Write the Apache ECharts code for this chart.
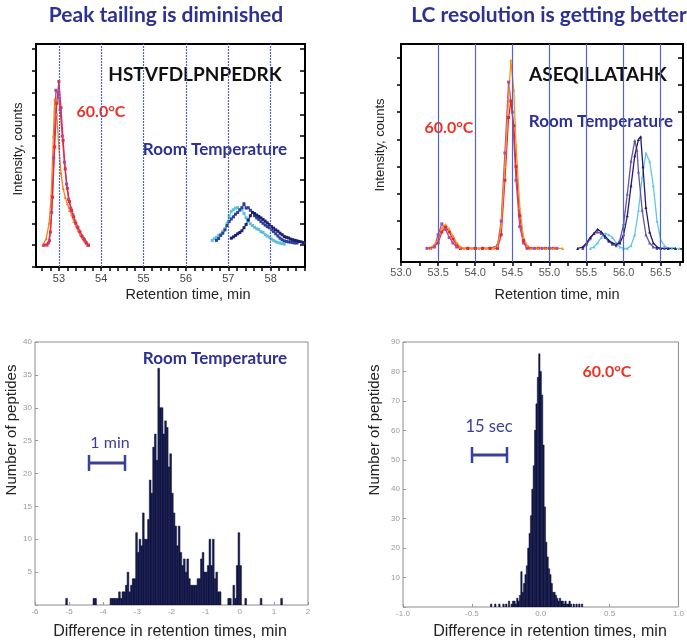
<!DOCTYPE html>
<html><head><meta charset="utf-8">
<script src="https://cdn.jsdelivr.net/npm/echarts@6/dist/echarts.min.js"></script>
<style>html,body{margin:0;padding:0;background:#fff}#c{width:687px;height:642px}</style>
</head><body><div id="c"></div>
<script>
// ---------- Panel 1: HSTVFDLPNPEDRK chromatograms ----------
const p1GridLines = [53, 54, 55, 56, 57, 58];
const p1XTicks = [52.6,52.8,53,53.2,53.4,53.6,53.8,54,54.2,54.4,54.6,54.8,55,55.2,55.4,55.6,55.8,56,56.2,56.4,56.6,56.8,57,57.2,57.4,57.6,57.8,58,58.2,58.4,58.6,58.8];
const p1XLabels = [53, 54, 55, 56, 57, 58];
const p1YTicks = [-1,0,1,2,3,4,5,6,7,8,9];
const p1Red = [[52.65,0],[52.75,0.1],[52.8,0.6],[52.85,2.2],[52.9,4.5],[52.95,6.5],[53.0,7.5],[53.05,6.3],[53.1,4.8],[53.15,3.5],[53.2,2.6],[53.25,2.0],[53.3,1.6],[53.35,1.3],[53.4,1.0],[53.45,0.8],[53.5,0.6],[53.55,0.4],[53.6,0.25],[53.65,0.1],[53.7,0]];
const p1Purple = [[52.72,0],[52.78,0.2],[52.83,1.5],[52.88,4.0],[52.93,7.1],[52.98,7.0],[53.03,6.2],[53.08,5.0],[53.13,3.8],[53.18,2.8],[53.23,2.1],[53.28,1.7],[53.33,1.4],[53.38,1.1],[53.43,0.85],[53.48,0.65],[53.53,0.45],[53.58,0.3],[53.63,0.15],[53.68,0]];
const p1Orange = [[52.62,0],[52.7,0.3],[52.77,1.0],[52.82,2.3],[52.87,5.0],[52.9,6.7],[52.95,6.0],[53.0,4.5],[53.05,3.3],[53.1,2.6],[53.15,2.2],[53.2,1.9],[53.25,1.6],[53.3,1.4],[53.35,1.1],[53.4,0.9],[53.45,0.7],[53.5,0.5],[53.55,0.35],[53.6,0.2],[53.65,0.08],[53.7,0]];
const p1Cyan = [[56.62,0.22],[56.67,0.3],[56.72,0.36],[56.77,0.45],[56.82,0.5],[56.87,0.62],[56.92,0.75],[56.97,1.0],[57.02,1.3],[57.07,1.55],[57.12,1.62],[57.17,1.7],[57.22,1.72],[57.27,1.6],[57.32,1.66],[57.37,1.45],[57.42,1.25],[57.47,1.1],[57.52,0.98],[57.57,0.9],[57.62,0.82],[57.67,0.75],[57.72,0.72],[57.77,0.62],[57.82,0.58],[57.87,0.48],[57.92,0.42],[57.97,0.36],[58.02,0.28],[58.07,0.22],[58.12,0.16],[58.17,0.12],[58.22,0.1],[58.27,0.07],[58.32,0.05]];
const p1Blue = [[56.72,0.22],[56.77,0.3],[56.82,0.45],[56.87,0.55],[56.92,0.7],[56.97,0.9],[57.02,1.08],[57.07,1.2],[57.12,1.3],[57.17,1.42],[57.22,1.5],[57.27,1.62],[57.32,1.72],[57.37,1.9],[57.42,1.7],[57.47,1.72],[57.52,1.6],[57.57,1.5],[57.62,1.35],[57.67,1.25],[57.72,1.18],[57.77,1.08],[57.82,1.0],[57.87,0.92],[57.92,0.85],[57.97,0.8],[58.02,0.7],[58.07,0.62],[58.12,0.52],[58.17,0.42],[58.22,0.32],[58.27,0.25],[58.32,0.2],[58.37,0.17],[58.42,0.15],[58.47,0.14],[58.52,0.12],[58.57,0.1],[58.62,0.1]];
const p1Navy = [[57.07,0.32],[57.12,0.38],[57.17,0.45],[57.22,0.52],[57.27,0.58],[57.32,0.66],[57.37,0.8],[57.42,0.95],[57.47,1.15],[57.52,1.35],[57.57,1.5],[57.62,1.45],[57.67,1.38],[57.72,1.32],[57.77,1.25],[57.82,1.18],[57.87,1.1],[57.92,1.02],[57.97,0.95],[58.02,0.85],[58.07,0.78],[58.12,0.7],[58.17,0.64],[58.22,0.55],[58.27,0.48],[58.32,0.4],[58.37,0.36],[58.42,0.33],[58.47,0.28],[58.52,0.25],[58.57,0.22],[58.62,0.2],[58.67,0.17],[58.72,0.15],[58.77,0.12],[58.8,0.1]];

// ---------- Panel 2: ASEQILLATAHK chromatograms ----------
const p2GridLines = [53.5, 54.0, 54.5, 55.0, 55.5, 56.0, 56.5];
const p2XTicks = [53.0,53.25,53.5,53.75,54.0,54.25,54.5,54.75,55.0,55.25,55.5,55.75,56.0,56.25,56.5,56.75];
const p2XLabels = [53.0, 53.5, 54.0, 54.5, 55.0, 55.5, 56.0, 56.5];
const p2YTicks = [0,1,2,3,4,5,6,7];
const p2Red = [[53.4,0],[53.5,0.2],[53.55,0.6],[53.6,0.8],[53.65,0.6],[53.7,0.35],[53.75,0.15],[53.8,0],[53.9,0],[54.0,0],[54.1,0],[54.2,0],[54.3,0],[54.35,0.5],[54.4,2.5],[54.45,4.8],[54.48,5.4],[54.52,4.5],[54.55,3.0],[54.6,1.2],[54.65,0.3],[54.7,0.05],[54.75,0],[54.85,0],[54.95,0],[55.05,0]];
const p2Purple = [[53.35,0],[53.45,0.05],[53.5,0.5],[53.55,0.9],[53.6,0.7],[53.65,0.4],[53.7,0.2],[53.75,0.05],[53.8,0],[53.9,0],[54.0,0],[54.1,0],[54.2,0],[54.3,0.1],[54.35,1.0],[54.4,3.5],[54.45,6.1],[54.5,5.0],[54.55,2.5],[54.6,0.8],[54.65,0.2],[54.7,0],[54.8,0],[54.9,0],[55.0,0],[55.1,0]];
const p2Orange = [[53.4,0],[53.5,0.3],[53.55,0.75],[53.6,0.88],[53.65,0.7],[53.7,0.45],[53.75,0.2],[53.8,0.05],[53.85,0],[53.95,0],[54.05,0],[54.15,0],[54.25,0],[54.3,0.1],[54.35,0.8],[54.4,3.0],[54.45,5.5],[54.48,6.9],[54.52,5.8],[54.55,3.8],[54.6,1.5],[54.65,0.4],[54.7,0.1],[54.75,0],[54.85,0],[54.95,0],[55.05,0],[55.18,0]];
const p2Navy = [[55.38,0],[55.45,0.05],[55.5,0.2],[55.55,0.4],[55.6,0.55],[55.65,0.7],[55.7,0.6],[55.75,0.45],[55.8,0.3],[55.85,0.2],[55.9,0.15],[55.95,0.2],[56.0,0.5],[56.05,1.2],[56.1,2.3],[56.15,3.4],[56.2,4.0],[56.23,4.1],[56.26,3.0],[56.3,1.5],[56.35,0.6],[56.4,0.2],[56.45,0.05],[56.5,0],[56.6,0],[56.7,0]];
const p2Violet = [[55.45,0],[55.5,0.15],[55.55,0.35],[55.6,0.55],[55.65,0.6],[55.7,0.55],[55.75,0.4],[55.8,0.25],[55.85,0.15],[55.9,0.1],[55.95,0.3],[56.0,0.9],[56.05,2.0],[56.1,3.2],[56.15,3.96],[56.18,3.6],[56.2,2.8],[56.25,1.4],[56.3,0.5],[56.35,0.2],[56.4,0.05],[56.45,0],[56.55,0]];
const p2Cyan = [[55.55,0],[55.6,0.05],[55.65,0.2],[55.7,0.4],[55.75,0.55],[55.8,0.5],[55.85,0.4],[55.9,0.2],[55.95,0.05],[56.0,0],[56.05,0],[56.1,0.1],[56.15,0.5],[56.2,1.4],[56.25,2.6],[56.3,3.5],[56.35,3.2],[56.4,2.3],[56.45,1.0],[56.5,0.3],[56.55,0.1],[56.6,0],[56.65,0],[56.7,0],[56.75,0]];

// ---------- Panel 3: Room temperature histogram ----------
const rtBinWidth = 0.05;
const rtCenters = [-5.075,-4.275,-4.225,-3.775,-3.725,-3.675,-3.625,-3.575,-3.525,-3.475,-3.425,-3.375,-3.325,-3.275,-3.225,-3.175,-3.125,-3.075,-3.025,-2.975,-2.925,-2.875,-2.825,-2.775,-2.725,-2.675,-2.625,-2.575,-2.525,-2.475,-2.425,-2.375,-2.325,-2.275,-2.225,-2.175,-2.125,-2.075,-2.025,-1.975,-1.925,-1.875,-1.825,-1.775,-1.725,-1.675,-1.625,-1.575,-1.525,-1.475,-1.425,-1.375,-1.325,-1.275,-1.225,-1.175,-1.125,-1.075,-1.025,-0.975,-0.925,-0.875,-0.825,-0.775,-0.725,-0.675,-0.625,-0.575,-0.325,-0.275,-0.175,-0.125,-0.075,-0.025,0.025,0.175,0.625,1.225];
const rtCounts  = [1,1,1,1,1,1,1,1,2,1,2,2,3,5,2,3,4,4,11,8,10,9,14,10,10,13,19,17,24,26,22,36,30,30,26,28,27,21,23,17,14,12,9,12,8,6,7,5,7,4,3,3,3,3,4,4,7,8,5,5,6,10,6,10,4,5,2,2,1,1,3,1,6,11,6,1,1,1];
const rtXLabels = [-6,-5,-4,-3,-2,-1,0,1,2];
const rtYLabels = [5,10,15,20,25,30,35,40];

// ---------- Panel 4: 60.0°C histogram ----------
const htBinWidth = 0.01;
const htCenters = [-0.36,-0.33,-0.30,-0.27,-0.25,-0.23,-0.21,-0.20,-0.19,-0.18,-0.17,-0.16,-0.15,-0.14,-0.13,-0.12,-0.11,-0.10,-0.09,-0.08,-0.07,-0.06,-0.05,-0.04,-0.03,-0.02,-0.01,0.00,0.01,0.02,0.03,0.04,0.05,0.06,0.07,0.08,0.09,0.10,0.11,0.12,0.13,0.14,0.15,0.16,0.17,0.18,0.19,0.20,0.21,0.22,0.24,0.26,0.28,0.30];
const htCounts  = [1,1,1,1,1,2,1,2,2,1,3,2,4,12,5,8,11,14,20,25,31,40,48,60,69,78,86,80,72,55,34,22,17,13,11,8,5,5,4,3,2,3,2,2,1,2,1,1,2,1,1,1,1,1];
const htXLabels = [-1.0,-0.5,0.0,0.5,1.0];
const htYLabels = [10,20,30,40,50,60,70,80,90];

// ---------- Text ----------
const titles = ['Peak tailing is diminished', 'LC resolution is getting better'];
const peptides = ['HSTVFDLPNPEDRK', 'ASEQILLATAHK'];
const xNames = ['Retention time, min', 'Retention time, min', 'Difference in retention times, min', 'Difference in retention times, min'];
const yNames = ['Intensity, counts', 'Intensity, counts', 'Number of peptides', 'Number of peptides'];

const NAVY = '#2e3192', RED = '#ee3124';
const chart = echarts.init(document.getElementById('c'), null, {renderer: 'canvas'});

function toPairs(xs, ys) { return xs.map((x, i) => [x, ys[i]]); }
function histSeries(name, xi, centers, counts, w) {
  return {
    name, type: 'custom', xAxisIndex: xi, yAxisIndex: xi, clip: true, z: 3,
    data: toPairs(centers, counts), encode: {x: 0, y: 1},
    renderItem(params, api) {
      const c = api.value(0), n = api.value(1);
      const a = api.coord([c - w / 2, n]);
      const b = api.coord([c + w / 2, 0]);
      return {type: 'rect', shape: {x: a[0], y: a[1], width: b[0] - a[0], height: b[1] - a[1]},
        style: {fill: '#161b55', stroke: '#070a2c', lineWidth: 0.5}};
    }
  };
}
function trace(name, xi, data, color, symbol, width) {
  return {name, type: 'line', xAxisIndex: xi, yAxisIndex: xi, data, z: 4,
    lineStyle: {color, width: width || 1.3}, itemStyle: {color},
    symbol: symbol || 'triangle', symbolSize: 3, showSymbol: true, animation: false};
}
function gridLineSeries(xi, vals, type) {
  return {type: 'line', xAxisIndex: xi, yAxisIndex: xi, data: [], z: 1, silent: true,
    markLine: {symbol: ['none', 'none'], silent: true, label: {show: false}, animation: false,
      lineStyle: {color: '#5265c2', width: 1.2, type}, data: vals.map(v => ({xAxis: v}))}};
}
function label(text, x, y, font, fill, rot) {
  return {type: 'text', x, y, rotation: rot || 0, style: {text, fill, font, align: 'center', verticalAlign: 'middle'}};
}
const tickStyle = {color: '#000', width: 1.5};
const noLine = {show: false, onZero: false};
const narrow = 'Liberation Sans Narrow, Arial Narrow, sans-serif';
const sans = 'Liberation Sans, Arial, sans-serif';
const lato = 'Lato, Open Sans, sans-serif';
const R90 = Math.PI / 2;

const option = {
  animation: false,
  backgroundColor: '#fff',
  grid: [
    {left: 36, top: 44, width: 269, height: 223, show: true, borderColor: '#000', borderWidth: 2, backgroundColor: 'transparent'},
    {left: 401, top: 44, width: 282, height: 218, show: true, borderColor: '#000', borderWidth: 2, backgroundColor: 'transparent'},
    {left: 35, top: 342, width: 273, height: 263, show: true, borderColor: '#8c8c8c', borderWidth: 1, backgroundColor: 'transparent'},
    {left: 403, top: 342, width: 280, height: 265, show: true, borderColor: '#8c8c8c', borderWidth: 1, backgroundColor: 'transparent'}
  ],
  xAxis: [
    {gridIndex: 0, type: 'value', position: 'bottom', min: 52.46, max: 58.81, axisLine: noLine, splitLine: {show: false},
      axisTick: {show: true, length: 4, lineStyle: tickStyle, customValues: p1XTicks},
      axisLabel: {customValues: p1XLabels, color: '#444', fontSize: 11, fontFamily: narrow, margin: 6}},
    {gridIndex: 1, type: 'value', position: 'bottom', min: 53.0, max: 56.8, axisLine: noLine, splitLine: {show: false},
      axisTick: {show: true, length: 4, lineStyle: tickStyle, customValues: p2XTicks},
      axisLabel: {customValues: p2XLabels, color: '#555', fontSize: 11, fontFamily: narrow, margin: 5, formatter: v => v.toFixed(1)}},
    {gridIndex: 2, type: 'value', position: 'bottom', min: -6, max: 2, interval: 1, axisLine: noLine, splitLine: {show: false},
      axisTick: {show: true, inside: true, length: 3, lineStyle: {color: '#999'}},
      axisLabel: {customValues: rtXLabels, color: '#999', fontSize: 8, fontFamily: sans, margin: 3}},
    {gridIndex: 3, type: 'value', position: 'bottom', min: -1, max: 1, interval: 0.5, axisLine: noLine, splitLine: {show: false},
      axisTick: {show: true, inside: true, length: 3, lineStyle: {color: '#999'}},
      axisLabel: {customValues: htXLabels, color: '#999', fontSize: 8, fontFamily: sans, margin: 3, formatter: v => v.toFixed(1)}}
  ],
  yAxis: [
    {gridIndex: 0, type: 'value', position: 'left', min: -1, max: 9.22, axisLine: noLine, splitLine: {show: false},
      axisTick: {show: true, length: 4, lineStyle: tickStyle, customValues: p1YTicks}, axisLabel: {show: false}},
    {gridIndex: 1, type: 'value', position: 'left', min: -0.5, max: 7.5, axisLine: noLine, splitLine: {show: false},
      axisTick: {show: true, length: 4, lineStyle: tickStyle, customValues: p2YTicks}, axisLabel: {show: false}},
    {gridIndex: 2, type: 'value', position: 'left', min: 0, max: 40, interval: 5, axisLine: noLine, splitLine: {show: false},
      axisTick: {show: true, inside: true, length: 3, lineStyle: {color: '#999'}},
      axisLabel: {customValues: rtYLabels, color: '#999', fontSize: 8, fontFamily: sans, margin: 3}},
    {gridIndex: 3, type: 'value', position: 'left', min: 0, max: 90, interval: 10, axisLine: noLine, splitLine: {show: false},
      axisTick: {show: true, inside: true, length: 3, lineStyle: {color: '#999'}},
      axisLabel: {customValues: htYLabels, color: '#999', fontSize: 8, fontFamily: sans, margin: 3}},
    {gridIndex: 0, type: 'value', position: 'right', min: -1, max: 9.22, axisLine: noLine, splitLine: {show: false},
      axisTick: {show: true, inside: true, length: 5, lineStyle: tickStyle, customValues: p1YTicks}, axisLabel: {show: false}},
    {gridIndex: 1, type: 'value', position: 'right', min: -0.5, max: 7.5, axisLine: noLine, splitLine: {show: false},
      axisTick: {show: true, inside: true, length: 5, lineStyle: tickStyle, customValues: p2YTicks}, axisLabel: {show: false}}
  ],
  series: [
    gridLineSeries(0, p1GridLines, [2, 1]),
    gridLineSeries(1, p2GridLines, 'solid'),
    trace('Room temp A', 0, p1Cyan, '#5ac3dc', 'rect', 1.2),
    trace('Room temp B', 0, p1Blue, '#2e3f9c', 'rect', 1.2),
    trace('Room temp C', 0, p1Navy, '#1b2070', 'rect', 1.2),
    trace('60.0°C A', 0, p1Purple, '#a24ba0', 'rect'),
    trace('60.0°C B', 0, p1Orange, '#f58220', 'triangle'),
    trace('60.0°C C', 0, p1Red, '#e82a3a', 'rect'),
    trace('60.0°C A', 1, p2Purple, '#b04aa8', 'rect'),
    trace('60.0°C B', 1, p2Red, '#e8262c', 'rect'),
    trace('60.0°C C', 1, p2Orange, '#f7941d', 'triangle'),
    trace('Room temp A', 1, p2Cyan, '#5fc9e2', 'triangle'),
    trace('Room temp B', 1, p2Violet, '#6b4fa5', 'triangle'),
    trace('Room temp C', 1, p2Navy, '#1f1e6e', 'triangle'),
    histSeries('Room temperature', 2, rtCenters, rtCounts, rtBinWidth),
    histSeries('60.0°C', 3, htCenters, htCounts, htBinWidth)
  ],
  graphic: [
    label(titles[0], 166, 15, 'bold 21px ' + lato, NAVY),
    label(titles[1], 549, 15, 'bold 21px ' + lato, NAVY),
    label(peptides[0], 195, 75, 'bold 19px ' + lato, '#111'),
    label(peptides[1], 598, 75, 'bold 19px ' + lato, '#111'),
    label('60.0°C', 101, 112, 'bold 16px ' + lato, RED),
    label('Room Temperature', 215, 150, 'bold 17px ' + lato, NAVY),
    label('60.0°C', 449, 128, 'bold 16px ' + lato, RED),
    label('Room Temperature', 601, 122, 'bold 17px ' + lato, NAVY),
    label('Room Temperature', 215, 359, 'bold 17px ' + lato, NAVY),
    label('60.0°C', 607, 372, 'bold 16px ' + lato, RED),
    label('1 min', 110, 443, '16px ' + lato, '#3a3f9a'),
    label('15 sec', 489, 427, '16.5px ' + lato, '#3a3f9a'),
    label(xNames[0], 188, 295, '14.5px ' + narrow, '#222'),
    label(xNames[1], 557, 295, '14.5px ' + narrow, '#222'),
    label(xNames[2], 170, 632, '16px ' + narrow, '#222'),
    label(xNames[3], 550, 632, '16px ' + narrow, '#222'),
    label(yNames[0], 18, 149, '13px ' + narrow, '#222', R90),
    label(yNames[1], 380, 145, '13px ' + narrow, '#222', R90),
    label(yNames[2], 12, 430, '15px ' + sans, '#222', R90),
    label(yNames[3], 375, 430, '15px ' + sans, '#222', R90),
    {type: 'polyline', shape: {points: [[88, 463], [126, 463]]}, style: {stroke: '#3a3f9a', lineWidth: 3}},
    {type: 'polyline', shape: {points: [[89, 455], [89, 471]]}, style: {stroke: '#3a3f9a', lineWidth: 2.5}},
    {type: 'polyline', shape: {points: [[125, 455], [125, 471]]}, style: {stroke: '#3a3f9a', lineWidth: 2.5}},
    {type: 'polyline', shape: {points: [[471, 455], [508, 455]]}, style: {stroke: '#3a3f9a', lineWidth: 3}},
    {type: 'polyline', shape: {points: [[472, 447], [472, 463]]}, style: {stroke: '#3a3f9a', lineWidth: 2.5}},
    {type: 'polyline', shape: {points: [[507, 447], [507, 463]]}, style: {stroke: '#3a3f9a', lineWidth: 2.5}}
  ]
};
chart.setOption(option);
</script>
</body></html>
